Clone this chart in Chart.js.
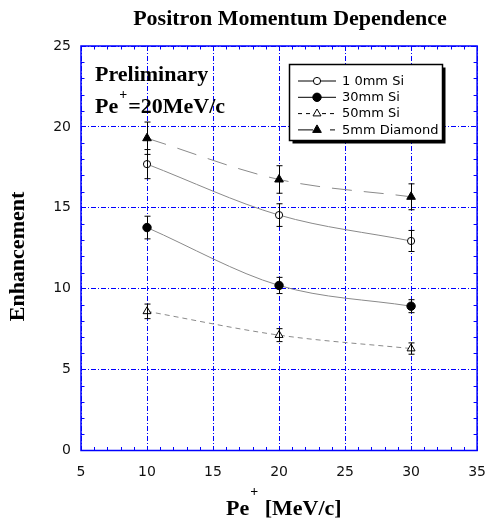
<!DOCTYPE html>
<html>
<head>
<meta charset="utf-8">
<title>Positron Momentum Dependence</title>
<script src="https://cdn.jsdelivr.net/npm/chart.js@4.4.0/dist/chart.umd.min.js"></script>
<style>
  html, body { margin: 0; padding: 0; background: #fff; }
  #wrap { width: 499px; height: 523px; }
</style>
</head>
<body>
<div id="wrap"><canvas id="chart"></canvas></div>
<script>
// ── Data ─────────────────────────────────────────────────────────────────────
const momentum    = [10, 20, 30];            // Pe+ [MeV/c]
const si10        = [17.7, 14.55, 12.95];
const si10Err     = [0.9, 0.7, 0.65];
const si30        = [13.78, 10.2, 8.92];
const si30Err     = [0.7, 0.5, 0.4];
const si50        = [8.6, 7.13, 6.3];
const si50Err     = [0.45, 0.4, 0.35];
const diamond     = [19.3, 16.75, 15.68];
const diamondErr  = [1.0, 0.85, 0.8];
const seriesNames = ['1 0mm Si', '30mm Si', '50mm Si', '5mm Diamond'];
const xTicks      = [5, 10, 15, 20, 25, 30, 35];
const yTicks      = [0, 5, 10, 15, 20, 25];

const SERIF = '"Liberation Serif", "Times New Roman", serif';
const SANS  = '"DejaVu Sans", sans-serif';
const BLUE  = '#0000ff';

Chart.defaults.font.family = SANS;
Chart.defaults.color = '#111';

// marker look per series (index matches seriesNames)
const markers = [
  { style: 'circle',   radius: 3.6, fill: '#fff', dash: [] },
  { style: 'circle',   radius: 4.2, fill: '#000', dash: [] },
  { style: 'triangle', radius: 4.6, fill: '#fff', dash: [5, 4] },
  { style: 'triangle', radius: 5.0, fill: '#000', dash: [20, 12] },
];
const values = [si10, si30, si50, diamond];
const errors = [si10Err, si30Err, si50Err, diamondErr];

const datasets = values.map((v, i) => ({
  label: seriesNames[i],
  data: momentum.map((x, k) => ({ x, y: v[k] })),
  borderColor: '#8a8a8a',
  borderWidth: 1,
  borderDash: markers[i].dash,
  cubicInterpolationMode: 'monotone',
  pointStyle: markers[i].style,
  pointRadius: markers[i].radius,
  pointBackgroundColor: markers[i].fill,
  pointBorderColor: '#000',
  pointBorderWidth: 1,
  fill: false,
}));

// ── Drawing helpers ──────────────────────────────────────────────────────────
function drawMarker(ctx, i, x, y) {
  const m = markers[i];
  ctx.save();
  ctx.setLineDash([]);
  ctx.fillStyle = m.fill;
  ctx.strokeStyle = '#000';
  ctx.lineWidth = 1;
  Chart.helpers.drawPoint(ctx, { pointStyle: m.style, radius: m.radius, rotation: 0, borderWidth: 1 }, x, y);
  ctx.restore();
}

// bold serif text with a small raised "+" after the first part
function supText(ctx, parts, x, y, raise) {
  const big = `bold 22px ${SERIF}`;
  const small = `bold 14px ${SERIF}`;
  ctx.textAlign = 'left';
  ctx.textBaseline = 'alphabetic';
  ctx.font = big;   ctx.fillText(parts[0], x, y);
  const w0 = ctx.measureText(parts[0]).width;
  ctx.font = small; ctx.fillText(parts[1], x + w0 + 1, y - raise);
  const w1 = ctx.measureText(parts[1]).width;
  ctx.font = big;   ctx.fillText(parts[2], x + w0 + w1 + 2, y);
}

// ── Plugins ──────────────────────────────────────────────────────────────────
const framePlugin = {
  id: 'frame',
  afterDatasetsDraw(chart) {
    const { ctx, chartArea: a, scales: { x, y } } = chart;
    ctx.save();

    // error bars
    ctx.strokeStyle = '#000';
    ctx.lineWidth = 1;
    values.forEach((v, i) => {
      momentum.forEach((m, k) => {
        const px = Math.round(x.getPixelForValue(m)) + 0.5;
        const top = y.getPixelForValue(v[k] + errors[i][k]);
        const bot = y.getPixelForValue(v[k] - errors[i][k]);
        ctx.beginPath();
        ctx.moveTo(px, top); ctx.lineTo(px, bot);
        ctx.moveTo(px - 3, top); ctx.lineTo(px + 3, top);
        ctx.moveTo(px - 3, bot); ctx.lineTo(px + 3, bot);
        ctx.stroke();
      });
    });

    // minor ticks on all four sides, pointing inwards
    ctx.strokeStyle = BLUE;
    ctx.lineWidth = 1;
    ctx.beginPath();
    for (let v = 6; v < 35; v++) {
      if (v % 5 === 0) continue;
      const px = Math.round(x.getPixelForValue(v)) + 0.5;
      ctx.moveTo(px, a.bottom); ctx.lineTo(px, a.bottom - 3.5);
      ctx.moveTo(px, a.top);    ctx.lineTo(px, a.top + 3.5);
    }
    for (let v = 1; v < 25; v++) {
      if (v % 5 === 0) continue;
      const py = Math.round(y.getPixelForValue(v)) + 0.5;
      ctx.moveTo(a.left, py);  ctx.lineTo(a.left + 3.5, py);
      ctx.moveTo(a.right, py); ctx.lineTo(a.right - 3.5, py);
    }
    ctx.stroke();

    // plot frame
    ctx.lineWidth = 1.5;
    ctx.strokeRect(a.left, a.top, a.right - a.left, a.bottom - a.top);
    ctx.restore();
  },
};

const textPlugin = {
  id: 'texts',
  afterDraw(chart) {
    const { ctx } = chart;
    ctx.save();
    ctx.fillStyle = '#000';

    // title
    ctx.font = `bold 22px ${SERIF}`;
    ctx.textAlign = 'center';
    ctx.textBaseline = 'alphabetic';
    ctx.fillText('Positron Momentum Dependence', 290, 25);

    // axis titles
    supText(ctx, ['Pe', '+', ' [MeV/c]'], 226, 514.5, 18.5);
    ctx.save();
    ctx.translate(24, 256.5);
    ctx.rotate(-Math.PI / 2);
    ctx.font = `bold 22px ${SERIF}`;
    ctx.textAlign = 'center';
    ctx.fillText('Enhancement', 0, 0);
    ctx.restore();

    // notes in the plot
    ctx.font = `bold 22px ${SERIF}`;
    ctx.textAlign = 'left';
    ctx.fillText('Preliminary', 95, 80.5);
    supText(ctx, ['Pe', '+', '=20MeV/c'], 95, 112.5, 13.5);

    // legend box with drop shadow
    const L = { x: 289.5, y: 64.5, w: 153, h: 76 };
    ctx.fillStyle = '#000';
    ctx.fillRect(L.x + 3, L.y + 3, L.w, L.h);
    ctx.fillStyle = '#fff';
    ctx.fillRect(L.x, L.y, L.w, L.h);
    ctx.strokeStyle = '#000';
    ctx.lineWidth = 1.5;
    ctx.strokeRect(L.x, L.y, L.w, L.h);

    ctx.font = `13px ${SANS}`;
    ctx.textBaseline = 'middle';
    seriesNames.forEach((name, i) => {
      const ry = 81 + i * 16.3;
      ctx.save();
      ctx.strokeStyle = '#000';
      ctx.lineWidth = 1;
      ctx.setLineDash(i === 3 ? [15, 17, 5, 10] : i === 2 ? [4, 4] : []);
      ctx.beginPath();
      ctx.moveTo(298, ry); ctx.lineTo(336, ry);
      ctx.stroke();
      ctx.restore();
      drawMarker(ctx, i, 317, ry);
      ctx.fillStyle = '#000';
      ctx.fillText(name, 342, ry + 0.5);
    });
    ctx.restore();
  },
};

// ── Chart ────────────────────────────────────────────────────────────────────
new Chart(document.getElementById('chart'), {
  type: 'line',
  data: { datasets },
  options: {
    responsive: true,
    maintainAspectRatio: false,
    animation: false,
    layout: { padding: { top: 46, right: 12.5, left: 0, bottom: 0 } },
    plugins: { legend: { display: false }, tooltip: { enabled: false }, title: { display: false } },
    scales: {
      x: {
        type: 'linear',
        min: 5, max: 35,
        afterBuildTicks: s => { s.ticks = xTicks.map(v => ({ value: v })); },
        afterFit: s => { s.height = 72.5; },
        ticks: { font: { size: 14 }, padding: 13, color: '#111', maxRotation: 0 },
        grid: { color: BLUE, lineWidth: 1, drawTicks: false },
        border: { display: false, dash: [5, 2, 1, 2] },
      },
      y: {
        type: 'linear',
        min: 0, max: 25,
        afterBuildTicks: s => { s.ticks = yTicks.map(v => ({ value: v })); },
        afterFit: s => { s.width = 81; },
        ticks: { font: { size: 14 }, padding: 10, color: '#111' },
        grid: { color: BLUE, lineWidth: 1, drawTicks: false },
        border: { display: false, dash: [5, 2, 1, 2] },
      },
    },
  },
  plugins: [framePlugin, textPlugin],
});
</script>
</body>
</html>
